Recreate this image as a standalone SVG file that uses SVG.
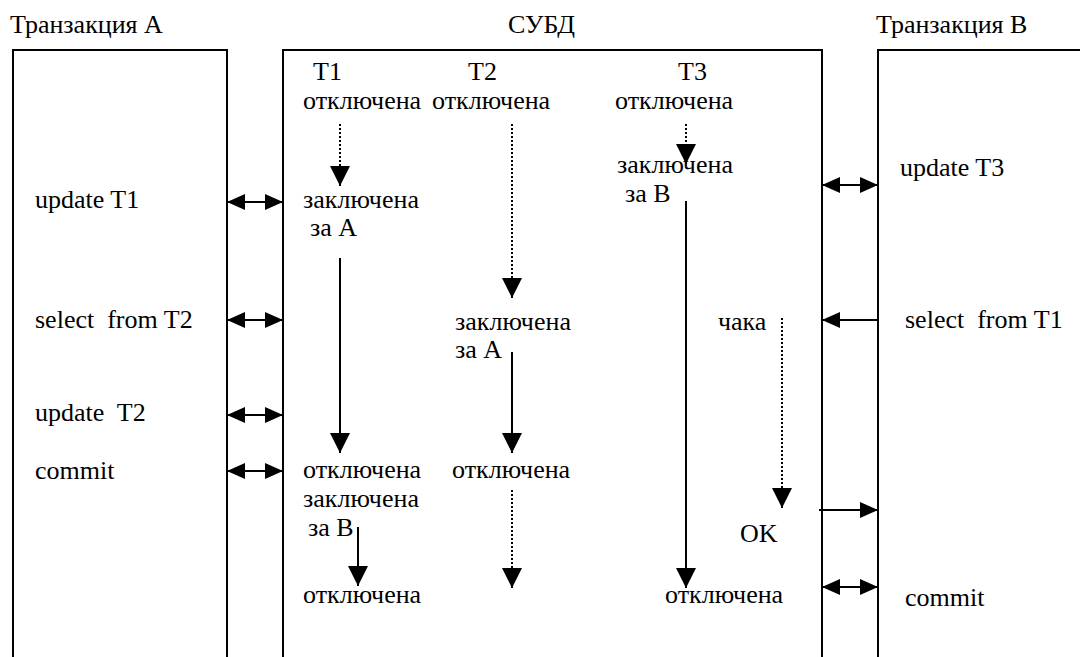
<svg xmlns="http://www.w3.org/2000/svg" width="1080" height="657" viewBox="0 0 1080 657">
<style>
.box{fill:none;stroke:#000;stroke-width:2}
.sol{stroke:#000;stroke-width:2;fill:none}
.dot{stroke:#000;stroke-width:2;fill:none;stroke-dasharray:2 2}
text{white-space:pre}
</style>
<defs>
<marker id="ah" markerUnits="userSpaceOnUse" markerWidth="18" markerHeight="18" refX="18" refY="9" orient="auto-start-reverse"><path d="M0,1 L18,9 L0,17 z" fill="#000"/></marker>
<marker id="av" markerUnits="userSpaceOnUse" markerWidth="20" markerHeight="20" refX="20" refY="10" orient="auto"><path d="M0,0 L20,10 L0,20 z" fill="#000"/></marker>
</defs>
<rect width="1080" height="657" fill="#fff"/>
<g id="transA">
<path class="box" d="M13,657 V50 H227 V657"/>
<g font-family="Liberation Serif" font-size="26" fill="#000">
<text x="10" y="33">Транзакция А</text>
<text x="35" y="208">update T1</text>
<text x="35" y="328">select  from T2</text>
<text x="35" y="421">update  T2</text>
<text x="35" y="479">commit</text>
</g>
</g>
<g id="dbms">
<path class="box" d="M283,657 V50 H822 V657"/>
<g font-family="Liberation Serif" font-size="26" fill="#000">
<text x="508" y="33">СУБД</text>
<text x="313" y="80">T1</text>
<text x="468" y="80">T2</text>
<text x="678" y="80">T3</text>
<text x="303" y="109">отключена</text>
<text x="432" y="109">отключена</text>
<text x="615" y="109">отключена</text>
<text x="303" y="208">заключена</text>
<text x="310" y="236">за А</text>
<text x="617" y="173">заключена</text>
<text x="625" y="202">за В</text>
<text x="455" y="330">заключена</text>
<text x="455" y="358">за А</text>
<text x="718" y="330">чака</text>
<text x="303" y="478">отключена</text>
<text x="452" y="478">отключена</text>
<text x="303" y="507">заключена</text>
<text x="308" y="536">за В</text>
<text x="740" y="542">OK</text>
<text x="303" y="603">отключена</text>
<text x="665" y="603">отключена</text>
</g>
</g>
<g id="transB">
<path class="box" d="M878,657 V50 H1080"/>
<g font-family="Liberation Serif" font-size="26" fill="#000">
<text x="876" y="33">Транзакция В</text>
<text x="900" y="176">update T3</text>
<text x="905" y="328">select  from T1</text>
<text x="905" y="606">commit</text>
</g>
</g>
<g id="connectors">
<line class="sol" x1="227" y1="202" x2="283" y2="202" marker-start="url(#ah)" marker-end="url(#ah)"/>
<line class="sol" x1="227" y1="320" x2="283" y2="320" marker-start="url(#ah)" marker-end="url(#ah)"/>
<line class="sol" x1="227" y1="415" x2="283" y2="415" marker-start="url(#ah)" marker-end="url(#ah)"/>
<line class="sol" x1="227" y1="471" x2="283" y2="471" marker-start="url(#ah)" marker-end="url(#ah)"/>
<line class="sol" x1="822" y1="185" x2="878" y2="185" marker-start="url(#ah)" marker-end="url(#ah)"/>
<line class="sol" x1="878" y1="320" x2="822" y2="320" marker-end="url(#ah)"/>
<line class="sol" x1="819" y1="510" x2="878" y2="510" marker-end="url(#ah)"/>
<line class="sol" x1="822" y1="587" x2="878" y2="587" marker-start="url(#ah)" marker-end="url(#ah)"/>
<line class="dot" x1="340" y1="124" x2="340" y2="168"/>
<line class="sol" x1="340" y1="166" x2="340" y2="186" stroke-width="0" marker-end="url(#av)"/>
<line class="sol" x1="340" y1="258" x2="340" y2="453" marker-end="url(#av)"/>
<line class="dot" x1="512" y1="124" x2="512" y2="280"/>
<line class="sol" x1="512" y1="278" x2="512" y2="298" stroke-width="0" marker-end="url(#av)"/>
<line class="sol" x1="512" y1="352" x2="512" y2="453" marker-end="url(#av)"/>
<line class="dot" x1="512" y1="490" x2="512" y2="570"/>
<line class="sol" x1="512" y1="568" x2="512" y2="588" stroke-width="0" marker-end="url(#av)"/>
<line class="sol" x1="358" y1="527" x2="358" y2="586" marker-end="url(#av)"/>
<line class="dot" x1="686" y1="124" x2="686" y2="146"/>
<line class="sol" x1="686" y1="144" x2="686" y2="164" stroke-width="0" marker-end="url(#av)"/>
<line class="sol" x1="686" y1="201" x2="686" y2="588" marker-end="url(#av)"/>
<line class="dot" x1="782" y1="318" x2="782" y2="490"/>
<line class="sol" x1="782" y1="488" x2="782" y2="508" stroke-width="0" marker-end="url(#av)"/>
</g>
</svg>
